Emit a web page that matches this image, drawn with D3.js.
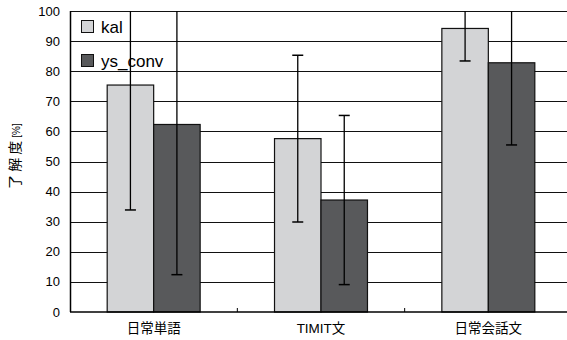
<!DOCTYPE html>
<html><head><meta charset="utf-8">
<script src="https://cdn.jsdelivr.net/npm/d3@7"></script>
<style>body{margin:0;background:#fff;} svg{display:block;font-family:"Liberation Sans","Noto Sans CJK JP",sans-serif;}</style>
</head><body>
<script>
const categories = ["日常単語", "TIMIT文", "日常会話文"];
const seriesNames = ["kal", "ys_conv"];
const kalValues = [75.4, 57.6, 94.2];
const kalErrors = [41.5, 27.7, 10.8];
const ysValues = [62.3, 37.2, 82.8];
const ysErrors = [49.9, 28.1, 27.3];
const yTicks = [0,10,20,30,40,50,60,70,80,90,100];
const colors = ["#d3d4d6", "#58595b"];

const W = 567, H = 340;
const margin = {left: 70, top: 11, right: -5, bottom: 28};
const svg = d3.select("body").append("svg").attr("width", W).attr("height", H);
const x0 = d3.scaleBand().domain(categories).range([margin.left, W - margin.right]);
const x1 = d3.scaleBand().domain(seriesNames).range([0, x0.bandwidth()]).paddingInner(0).paddingOuter(0.8);
const y = d3.scaleLinear().domain([0, 100]).range([H - margin.bottom, margin.top]);

svg.append("defs").append("clipPath").attr("id","clip")
  .append("rect").attr("x", margin.left).attr("y", margin.top).attr("width", W).attr("height", y(0)-margin.top);

// gridlines
svg.append("g").selectAll("line").data(yTicks.filter(d=>d>0)).join("line")
  .attr("x1", margin.left).attr("x2", W)
  .attr("y1", d=>Math.round(y(d))+0.5).attr("y2", d=>Math.round(y(d))+0.5)
  .attr("stroke", "#111").attr("stroke-width", 1.2);

// y labels
svg.append("g").selectAll("text").data(yTicks).join("text")
  .attr("x", 60).attr("y", d=>y(d)).attr("dy","0.35em").attr("text-anchor","end")
  .attr("font-size", 13).attr("fill","#000").text(d=>d);

const data = categories.map((c,i)=>[
  {cat:c, s:"kal", v:kalValues[i], e:kalErrors[i], col:colors[0]},
  {cat:c, s:"ys_conv", v:ysValues[i], e:ysErrors[i], col:colors[1]}
]).flat();

// bars
svg.append("g").selectAll("rect").data(data).join("rect")
  .attr("x", d=>x0(d.cat)+x1(d.s)).attr("width", x1.bandwidth())
  .attr("y", d=>y(d.v)).attr("height", d=>y(0)-y(d.v))
  .attr("fill", d=>d.col).attr("stroke","#111").attr("stroke-width",1.2);

// axes
svg.append("line").attr("x1", margin.left+0.5).attr("x2", margin.left+0.5).attr("y1", margin.top).attr("y2", y(0)).attr("stroke","#000").attr("stroke-width",1.5);
svg.append("line").attr("x1", margin.left).attr("x2", W).attr("y1", y(0)).attr("y2", y(0)).attr("stroke","#000").attr("stroke-width",1.5);
// category ticks (inside)
svg.append("g").selectAll("line").data(categories.slice(1)).join("line")
  .attr("x1", d=>x0(d)).attr("x2", d=>x0(d)).attr("y1", y(0)).attr("y2", y(0)-4)
  .attr("stroke","#000");

// legend
const leg = svg.append("g");
seriesNames.forEach((s,i)=>{
  const ly = 27 + i*34;
  leg.append("rect").attr("x", 81.5).attr("y", ly-6.5).attr("width", 12).attr("height", 12)
    .attr("fill", colors[i]).attr("stroke","#111").attr("stroke-width",1);
  leg.append("text").attr("x", 101).attr("y", ly).attr("dy","0.36em").attr("font-size",17).text(s);
});

// error bars
const eg = svg.append("g").attr("clip-path","url(#clip)");
data.forEach(d=>{
  const cx = x0(d.cat)+x1(d.s)+x1.bandwidth()/2;
  const lo = y(d.v-d.e), hi = y(d.v+d.e);
  eg.append("line").attr("x1",cx).attr("x2",cx).attr("y1",lo).attr("y2",hi).attr("stroke","#000").attr("stroke-width",1.3);
  [lo,hi].forEach(yy=>eg.append("line").attr("x1",cx-5.5).attr("x2",cx+5.5).attr("y1",yy).attr("y2",yy).attr("stroke","#000").attr("stroke-width",1.5));
});

// category labels
svg.append("g").selectAll("text").data(categories).join("text")
  .attr("x", d=>x0(d)+x0.bandwidth()/2).attr("y", 333).attr("text-anchor","middle")
  .attr("font-size", 13.5).text(d=>d);

// y title
const yt = svg.append("text").attr("transform","translate(20,156) rotate(-90)").attr("text-anchor","middle")
  .attr("font-size",14).attr("letter-spacing", 3);
yt.append("tspan").text("了解度");
yt.append("tspan").attr("font-size",10).attr("letter-spacing",0).text("[%]");
</script>
</body></html>
